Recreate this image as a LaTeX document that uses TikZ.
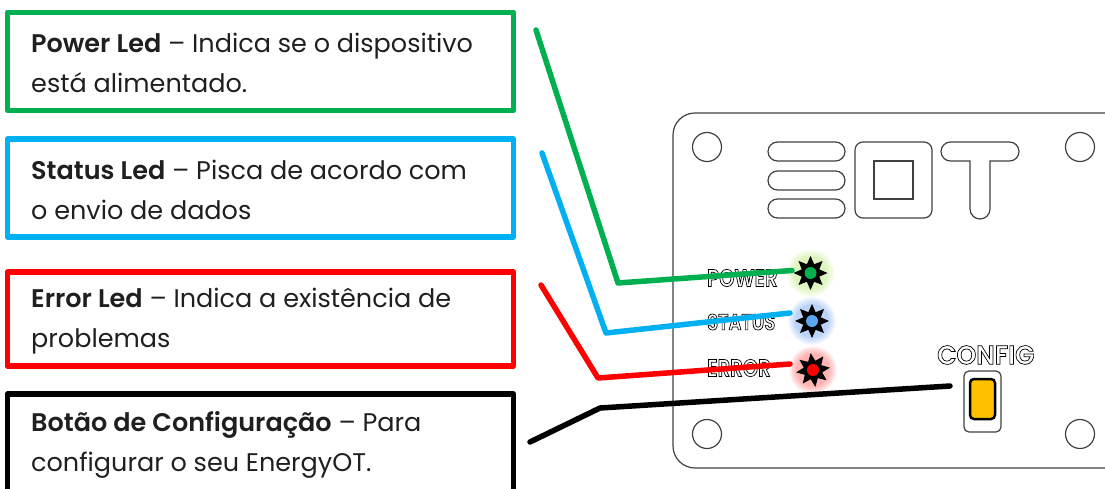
\documentclass[tikz,border=0pt]{standalone}
\usepackage{fontspec}
\setmainfont[BoldFont={Poppins SemiBold}]{Poppins}
\newfontfamily\silkf[FakeStretch=0.8]{Poppins SemiBold}
\newfontfamily\silkw[FakeStretch=0.95]{Poppins SemiBold}
\definecolor{cgreen}{HTML}{00B050}
\definecolor{cblue}{HTML}{00B0F0}
\definecolor{cred}{HTML}{FF0000}
\definecolor{cbtn}{HTML}{FFC000}
\definecolor{gglow}{HTML}{B8E878}
\definecolor{bglow}{HTML}{6FA5EE}
\definecolor{rglow}{HTML}{FF6060}
\definecolor{bdot}{HTML}{5BA5EE}
\newcommand{\outl}[1]{\special{pdf:code q 1 Tr 0.7 w}#1\special{pdf:code Q}}
\newcommand{\ledglow}[2]{%
  \foreach \r/\o in {24/.08,22.5/.1,21/.12,19/.14,17/.16}
    \fill[#2,opacity=\o] (#1) circle[radius=\r];}
\newcommand{\ledstar}[3]{%
  \fill[black] ($(#1)+(90+#3:17)$)
    \foreach \a in {0,45,...,315}{ -- ($(#1)+(112.5+#3+\a:9.5)$) -- ($(#1)+(135+#3+\a:17)$) } -- cycle;
  \fill[#2] (#1) circle[radius=6];}
\usetikzlibrary{calc}
\tikzset{
  x=1pt,y=-1pt,
  infobox/.style={draw=#1,line width=5.5pt,line join=round,outer sep=0pt,minimum width=506pt,anchor=north west,inner sep=0pt},
  boxtext/.style={anchor=west,inner sep=0pt,align=left,font=\fontsize{25.5}{40}\selectfont,text=black!88},
  wire/.style={draw=#1,line width=5.5pt,line cap=round,line join=round},
  board/.style={draw=black!75,line width=1.2pt},
  silk/.style={font=\silkf\fontsize{#1}{#1}\selectfont,inner sep=0pt,anchor=west},
  silkwide/.style={font=\silkw\fontsize{#1}{#1}\selectfont,inner sep=0pt,anchor=west}
}
\begin{document}
\begin{tikzpicture}
\useasboundingbox (0,0) rectangle (1105,488);
\clip (0,0) rectangle (1105,488);
% board
\draw[board,rounded corners=22pt] (673,113) rectangle (1128,468);
\foreach \n/\p in {tl/{707,147},tr/{1080,147},bl/{707,434},br/{1080,434}}
  \draw[board] (\p) circle[radius=14.5];
% logo
\foreach \y in {142,171,199}
  \draw[board,rounded corners=9.5pt] (768,\y) rectangle (845,\y+19);
\draw[board,rounded corners=8pt] (855,142) rectangle (932,218);
\draw[board] (874,161) rectangle (913,199);
\draw[board,rounded corners=9.5pt] (980,142) -- (1019,142) -- (1019,161) [sharp corners] -- (990,161)
  [rounded corners=10pt] -- (990,219) -- (970,219) [sharp corners] -- (970,161)
  [rounded corners=9.5pt] -- (941,161) -- (941,142) -- cycle;
% leds
\coordinate (ledP) at (810.5,273);
\coordinate (ledS) at (812,321);
\coordinate (ledE) at (813,370);
\ledglow{ledP}{gglow}
\ledglow{ledS}{bglow}
\ledglow{ledE}{rglow}
\ledstar{ledP}{cgreen}{0}
\ledstar{ledS}{bdot}{0}
\ledstar{ledE}{cred}{-8}
\node[silk=24.5] (lp) at (707,278) {\outl{POWER}};
\node[silk=22.5] (ls) at (707,322) {\outl{STATUS}};
\node[silk=24.5] (le) at (707,368) {\outl{ERROR}};
\node[silkwide=26.5] (lc) at (937,355) {\outl{CONFIG}};
% button
\draw[board,rounded corners=5pt] (964,371) rectangle (1001,432);
\draw[black,line width=2.5pt,fill=cbtn,rounded corners=4pt] (970,379) rectangle (995,419);
% boxes
\node[infobox=cgreen,minimum height=98pt] (b1) at (7.5,12.3) {};
\node[infobox=cblue,minimum height=98pt] (b2) at (7.5,139) {};
\node[infobox=cred,minimum height=94pt] (b3) at (7.5,272) {};
\node[infobox=black,minimum height=100pt] (b4) at (7.5,394) {};
\node[boxtext] (t1) at (31,63) {\textbf{Power Led} – Indica se o dispositivo\\está alimentado.};
\node[boxtext] (t2) at (31,189.5) {\textbf{Status Led} – Pisca de acordo com\\o envio de dados};
\node[boxtext] (t3) at (31,321.5) {\textbf{Error Led} – Indica a existência de\\problemas};
\node[boxtext] (t4) at (31,445) {\textbf{Botão de Configuração} – Para\\configurar o seu EnergyOT.};
% connectors
\coordinate (g0) at (536,30); \coordinate (g1) at (618,283); \coordinate (g2) at (792,270.5);
\coordinate (u0) at (542,153); \coordinate (u1) at (606,333); \coordinate (u2) at (790,313);
\coordinate (r0) at (541,285); \coordinate (r1) at (598,378); \coordinate (r2) at (790,364);
\coordinate (k0) at (530,442); \coordinate (k1) at (600,408); \coordinate (k2) at (950,386);
\draw[wire=cgreen] (g0) -- (g1) -- (g2);
\draw[wire=cblue] (u0) -- (u1) -- (u2);
\draw[wire=cred] (r0) -- (r1) -- (r2);
\draw[wire=black] (k0) -- (k1) -- (k2);
\end{tikzpicture}
\end{document}
